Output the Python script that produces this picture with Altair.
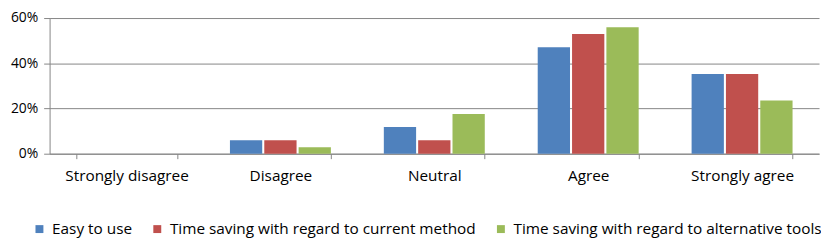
import altair as alt
import pandas as pd

categories = ["Strongly disagree", "Disagree", "Neutral", "Agree", "Strongly agree"]
series = [
    "Easy to use",
    "Time saving with regard to current method",
    "Time saving with regard to alternative tools",
]
easy_to_use = [0.0, 5.9, 11.8, 47.1, 35.3]
current_method = [0.0, 5.9, 5.9, 52.9, 35.3]
alternative_tools = [0.0, 2.9, 17.6, 55.9, 23.5]
colors = ["#4F81BD", "#C0504D", "#9BBB59"]

rows = []
for s, vals in zip(series, [easy_to_use, current_method, alternative_tools]):
    for c, v in zip(categories, vals):
        rows.append({"category": c, "series": s, "value": v / 100})
df = pd.DataFrame(rows)

FONT = "Open Sans"
FS = 15.5

chart = (
    alt.Chart(df)
    .mark_bar()
    .encode(
        x=alt.X(
            "category:N",
            sort=categories,
            title=None,
            scale=alt.Scale(paddingInner=0.344, paddingOuter=0.172),
            axis=alt.Axis(
                labelAngle=0,
                grid=False,
                tickBand="extent",
                tickSize=5,
                labelPadding=10,
                domainColor="#868686",
                tickColor="#868686",
                labelColor="#000000",
                labelFont=FONT,
                labelFontSize=FS,
            ),
        ),
        xOffset=alt.XOffset(
            "series:N", sort=series, scale=alt.Scale(paddingInner=0.06, paddingOuter=0)
        ),
        y=alt.Y(
            "value:Q",
            title=None,
            scale=alt.Scale(domain=[0, 0.6], nice=False),
            axis=alt.Axis(
                values=[0, 0.2, 0.4, 0.6],
                format=".0%",
                tickSize=6,
                labelPadding=6,
                domainColor="#868686",
                tickColor="#868686",
                gridColor="#868686",
                labelColor="#000000",
                labelFont=FONT,
                labelFontSize=14,
            ),
        ),
        color=alt.Color(
            "series:N",
            sort=series,
            scale=alt.Scale(domain=series, range=colors),
            legend=alt.Legend(
                title=None,
                orient="none",
                direction="horizontal",
                legendX=-18,
                legendY=205,
                symbolType="square",
                symbolSize=64,
                symbolStrokeWidth=0,
                labelOffset=5,
                columnPadding=17,
                labelFont=FONT,
                labelFontSize=FS,
                labelColor="#000000",
                labelLimit=500,
            ),
        ),
    )
    .properties(
        width=777,
        height=137,
        autosize=alt.AutoSizeParams(type="none"),
        padding={"left": 42, "top": 9, "right": 2, "bottom": 86},
    )
    .configure_view(stroke=None)
)

chart.save("out.html", embed_options={"renderer": "svg", "actions": False})
